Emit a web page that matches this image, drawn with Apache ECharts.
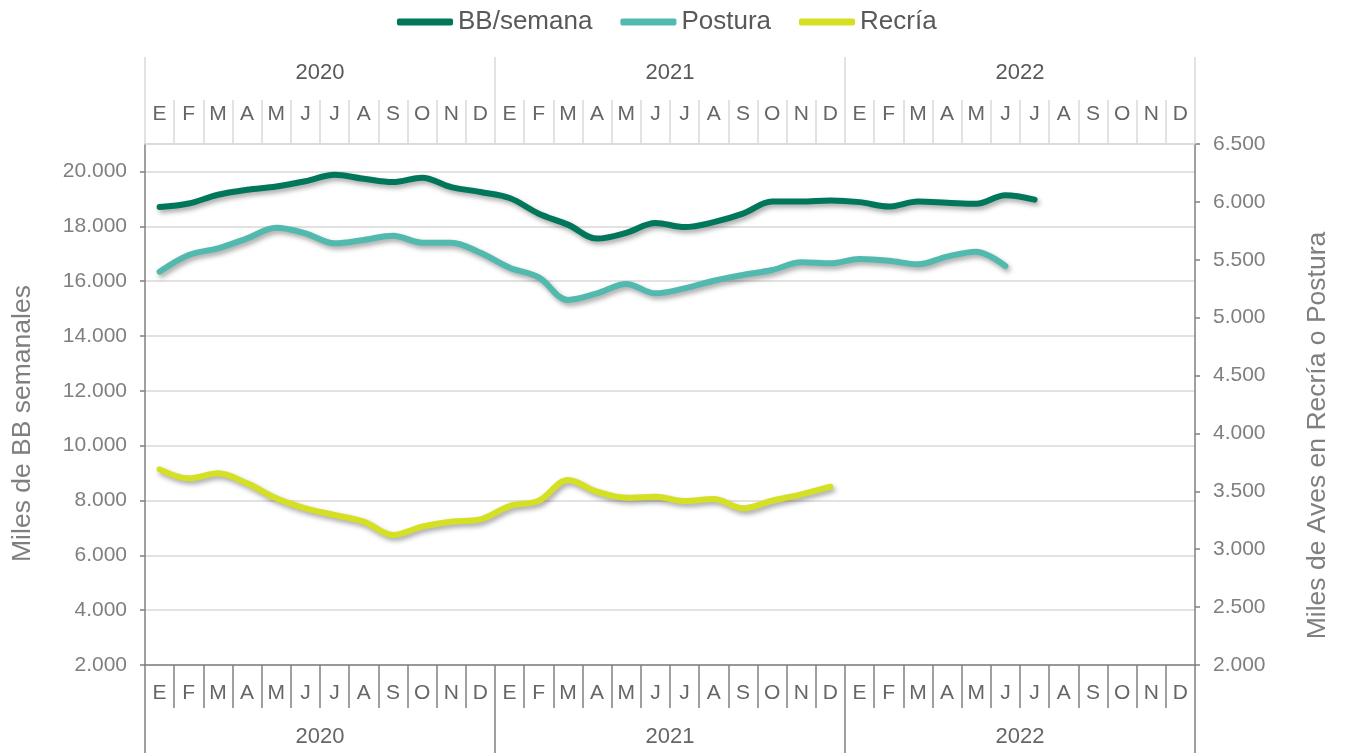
<!DOCTYPE html>
<html>
<head>
<meta charset="utf-8">
<script src="https://cdn.jsdelivr.net/npm/echarts@6/dist/echarts.min.js"></script>
<style>
html,body{margin:0;padding:0;background:#fff;}
#chart{width:1349px;height:753px;}
</style>
</head>
<body>
<div id="chart"></div>
<script>
// ---- data ----
const months = ['E','F','M','A','M','J','J','A','S','O','N','D',
                'E','F','M','A','M','J','J','A','S','O','N','D',
                'E','F','M','A','M','J','J','A','S','O','N','D'];
const years = ['2020','2021','2022'];
const leftTicks = {min: 2000, max: 21000, interval: 2000};
const rightTicks = {min: 2000, max: 6500, interval: 500};

const bbSemana = [18700, 18830, 19150, 19330, 19450, 19640, 19880, 19730, 19610, 19770, 19430, 19250,
                  19030, 18460, 18060, 17550, 17760, 18120, 17970, 18150, 18460, 18900, 18900, 18940,
                  18880, 18720, 18900, 18860, 18820, 19130, 18970];
const postura = [5397, 5541, 5599, 5685, 5777, 5728, 5642, 5671, 5708, 5648, 5648, 5561,
                 5432, 5348, 5153, 5210, 5291, 5210, 5253, 5319, 5369, 5412, 5478, 5469,
                 5507, 5492, 5461, 5527, 5570, 5446];
const recria = [3690, 3612, 3656, 3569, 3440, 3353, 3296, 3238, 3123, 3195, 3238, 3258,
                3373, 3419, 3598, 3497, 3445, 3454, 3417, 3434, 3353, 3419, 3474, 3540];

// ---- chart ----
const fmt = v => String(v).replace(/\B(?=(\d{3})+(?!\d))/g, '.');
const FONT = '"Liberation Sans", Arial, sans-serif';
const dark = '#808080', light = '#d9d9d9';
const shadow = {shadowColor: 'rgba(0,0,0,0.35)', shadowBlur: 5, shadowOffsetX: 2, shadowOffsetY: 3};

const chart = echarts.init(document.getElementById('chart'), null, {renderer: 'canvas'});
chart.setOption({
  animation: false,
  backgroundColor: '#fff',
  textStyle: {fontFamily: FONT},
  legend: {
    top: 4, left: 392,
    itemWidth: 56, itemHeight: 7, itemGap: 28,
    icon: 'roundRect',
    textStyle: {fontSize: 26, color: '#595959', fontFamily: FONT},
    data: ['BB/semana', 'Postura', 'Recría']
  },
  grid: {left: 145, right: 154, top: 144, bottom: 88, containLabel: false},
  xAxis: [
    { type: 'category', data: months, position: 'bottom', boundaryGap: true,
      axisLine: {lineStyle: {color: dark, width: 1.5}},
      axisTick: {show: true, interval: 0, length: 43, lineStyle: {color: dark, width: 1.5}},
      axisLabel: {interval: 0, margin: 18, fontSize: 21, color: '#666', fontFamily: FONT},
      splitLine: {show: false} },
    { type: 'category', data: years, position: 'bottom', boundaryGap: true,
      axisLine: {show: false},
      axisTick: {show: true, interval: 0, length: 88, lineStyle: {color: dark, width: 1.5}},
      axisLabel: {interval: 0, margin: 61, fontSize: 22, color: '#666', fontFamily: FONT} },
    { type: 'category', data: months, position: 'top', boundaryGap: true,
      axisLine: {lineStyle: {color: light, width: 1.5}},
      axisTick: {show: true, interval: 0, length: 44, lineStyle: {color: light, width: 1.5}},
      axisLabel: {interval: 0, margin: 19, fontSize: 21, color: '#666', fontFamily: FONT} },
    { type: 'category', data: years, position: 'top', boundaryGap: true,
      axisLine: {show: false},
      axisTick: {show: true, interval: 0, length: 87, lineStyle: {color: light, width: 1.5}},
      axisLabel: {interval: 0, margin: 60, fontSize: 22, color: '#595959', fontFamily: FONT} }
  ],
  yAxis: [
    { type: 'value', position: 'left',
      min: leftTicks.min, max: leftTicks.max, interval: leftTicks.interval,
      name: 'Miles de BB semanales', nameLocation: 'middle', nameGap: 109,
      nameTextStyle: {fontSize: 26.5, color: '#7f7f7f', fontFamily: FONT, padding: [0, 38, 0, 0]},
      axisLine: {show: true, lineStyle: {color: dark, width: 1.5}},
      axisTick: {show: true, length: 5, lineStyle: {color: dark, width: 1.5}},
      axisLabel: {margin: 18, fontSize: 21, color: '#7f7f7f', fontFamily: FONT,
                  showMaxLabel: false, formatter: fmt},
      splitLine: {show: true, lineStyle: {color: light, width: 1.5}} },
    { type: 'value', position: 'right',
      min: rightTicks.min, max: rightTicks.max, interval: rightTicks.interval,
      name: 'Miles de Aves en Recría o Postura', nameLocation: 'middle', nameGap: 109,
      nameTextStyle: {fontSize: 26.5, color: '#7f7f7f', fontFamily: FONT, padding: [0, 62, 0, 0]},
      axisLine: {show: true, lineStyle: {color: dark, width: 1.5}},
      axisTick: {show: true, length: 5, lineStyle: {color: dark, width: 1.5}},
      axisLabel: {margin: 18, fontSize: 21, color: '#7f7f7f', fontFamily: FONT, formatter: fmt},
      splitLine: {show: false} }
  ],
  series: [
    { name: 'BB/semana', type: 'line', xAxisIndex: 0, yAxisIndex: 0, data: bbSemana,
      smooth: 0.35, symbol: 'none', color: '#00765A',
      lineStyle: Object.assign({width: 6, color: '#00765A', cap: 'round', join: 'round'}, shadow) },
    { name: 'Postura', type: 'line', xAxisIndex: 0, yAxisIndex: 1, data: postura,
      smooth: 0.35, symbol: 'none', color: '#52B9AF',
      lineStyle: Object.assign({width: 6, color: '#52B9AF', cap: 'round', join: 'round'}, shadow) },
    { name: 'Recría', type: 'line', xAxisIndex: 0, yAxisIndex: 1, data: recria,
      smooth: 0.35, symbol: 'none', color: '#D6E022',
      lineStyle: Object.assign({width: 6, color: '#D6E022', cap: 'round', join: 'round'}, shadow) }
  ]
});
</script>
</body>
</html>
